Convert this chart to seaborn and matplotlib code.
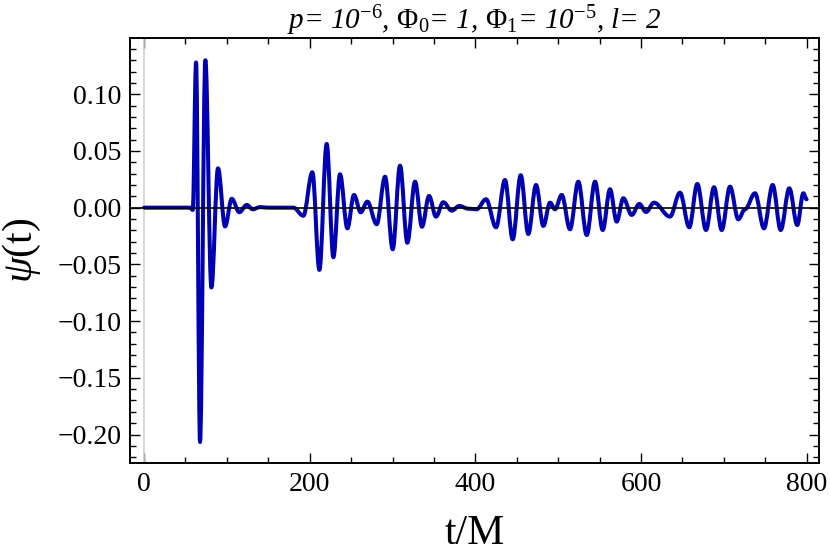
import numpy as np
import pandas as pd
import matplotlib
matplotlib.use("Agg")
import matplotlib.pyplot as plt
from matplotlib.ticker import FixedLocator, MultipleLocator, FuncFormatter
from matplotlib.path import Path
from matplotlib.patches import PathPatch
import seaborn as sns

# ---- data (t/M, psi): turning points of the wave ----
t_burst = [0.0, 55.5, 58.8, 62.8, 67.6, 74.0, 81.3, 89.3, 97.8, 105.9, 115.0,
           124.0, 131.2, 140.0, 150.0, 180.3]
psi_burst = [0.0, 0.0, -0.0020, 0.1280, -0.2066, 0.1300, -0.0704, 0.0347,
             -0.0165, 0.0078, -0.0040, 0.0024, -0.0014, 0.0005, 0.0, 0.0]

t_echo1 = [192.3, 203.2, 211.7, 220.5, 228.6, 236.6, 245.5, 253.5, 261.6,
           269.6, 280.9, 291.0, 300.2, 309.1, 317.9, 327.2, 335.6, 344.1,
           352.5, 361.3, 371.5, 380.7, 391.5]
psi_echo1 = [-0.0071, 0.0312, -0.0549, 0.0562, -0.0437, 0.0294, -0.0182,
             0.0112, -0.0041, 0.0053, -0.0146, 0.0273, -0.0367, 0.0370,
             -0.0309, 0.0229, -0.0168, 0.0103, -0.0079, 0.0048, -0.0026,
             0.0015, -0.0009]

t_echo2 = [401.6, 412.9, 425.0, 435.8, 445.1, 454.8, 463.9, 473.3, 482.1,
           490.2, 496.2, 504.3, 514.3, 524.3, 534.5, 544.5, 553.8, 562.6,
           570.7, 578.7, 588.8, 598.0, 606.1, 615.7, 635.0, 647.1, 658.3,
           668.0, 678.5, 688.2, 697.5, 707.5, 717.5, 725.6, 737.7, 748.5,
           759.0, 768.7, 779.1, 788.7, 796.0, 800.0]
psi_echo2 = [-0.0014, 0.0074, -0.0173, 0.0244, -0.0279, 0.0286, -0.0232,
             0.0200, -0.0161, 0.0044, -0.0014, 0.0112, -0.0190, 0.0229,
             -0.0241, 0.0229, -0.0197, 0.0162, -0.0123, 0.0083, -0.0064,
             0.0033, -0.0038, 0.0044, -0.0079, 0.0132, -0.0173, 0.0209,
             -0.0197, 0.0180, -0.0197, 0.0185, -0.0102, -0.0014, 0.0127,
             -0.0182, 0.0200, -0.0197, 0.0171, -0.0153, 0.0127, 0.0074]

x_ticks = [0, 200, 400, 600, 800]
y_ticks = [-0.20, -0.15, -0.10, -0.05, 0.00, 0.05, 0.10]
title_text = (r"p= 10$^{\mathit{-6}}$, $\Phi_{\mathit{0}}$= 1, "
              r"$\Phi_{\mathit{1}}$= 10$^{\mathit{-5}}$, l= 2")
x_label = "t/M"
y_label = r"$\psi$(t)"

df = pd.DataFrame({"t": t_burst + t_echo1 + t_echo2,
                   "psi": psi_burst + psi_echo1 + psi_echo2})

# ---- style ----
sns.set_theme(style="ticks")
plt.rcParams["font.family"] = ["Liberation Serif", "DejaVu Serif"]
plt.rcParams["mathtext.fontset"] = "custom"
plt.rcParams["mathtext.rm"] = "Liberation Serif"
plt.rcParams["mathtext.it"] = "Liberation Serif:italic"
plt.rcParams["mathtext.bf"] = "Liberation Serif:bold"
plt.rcParams["axes.unicode_minus"] = True
for key in ["text.color", "axes.labelcolor", "xtick.color", "ytick.color",
            "axes.edgecolor"]:
    plt.rcParams[key] = "black"

fig = plt.figure(figsize=(8.3, 5.57), dpi=100)
ax = fig.add_axes([0.1563, 0.1682, 0.9871 - 0.1563, 0.9318 - 0.1682])

blue = "#0000b4"
# smooth curve through the turning points (horizontal tangent at each one)
ts = df["t"].to_numpy()
ys = df["psi"].to_numpy()
verts = [(ts[0], ys[0])]
codes = [Path.MOVETO]
for i in range(len(ts) - 1):
    h = 0.36 * (ts[i + 1] - ts[i])
    verts += [(ts[i] + h, ys[i]), (ts[i + 1] - h, ys[i + 1]), (ts[i + 1], ys[i + 1])]
    codes += [Path.CURVE4] * 3
ax.add_patch(PathPatch(Path(verts, codes), fill=False, edgecolor=blue,
                       linewidth=2.9, joinstyle="round", capstyle="round",
                       zorder=3))

ax.axhline(0, color="black", linewidth=1.2, zorder=4)
ax.axvline(0, color="#d0d0d0", linewidth=1.2, zorder=1)

ax.set_xlim(-17.3, 815.3)
ax.set_ylim(-0.2254, 0.1496)

ax.xaxis.set_major_locator(FixedLocator(x_ticks))
ax.xaxis.set_minor_locator(MultipleLocator(50))
ax.yaxis.set_major_locator(FixedLocator(y_ticks))
ax.yaxis.set_minor_locator(MultipleLocator(0.01))
ax.yaxis.set_major_formatter(FuncFormatter(lambda v, p: f"{v:.2f}".replace("-", "\u2212")))
ax.xaxis.set_major_formatter(FuncFormatter(lambda v, p: f"{v:.0f}"))

ax.tick_params(which="both", direction="in", top=True, right=True,
               color="black", width=1.0)
ax.tick_params(which="major", length=7, labelsize=20, pad=6,
               labeltop=False, labelright=False)
ax.tick_params(which="minor", length=4)
for s in ax.spines.values():
    s.set_color("black")
    s.set_linewidth(1.4)

ax.set_xlabel(x_label, fontsize=30, labelpad=13)
ax.set_ylabel(y_label, fontsize=30, labelpad=10)
ax.set_title(title_text, fontsize=21, style="italic", pad=6)

fig.savefig("out.png", dpi=100)
